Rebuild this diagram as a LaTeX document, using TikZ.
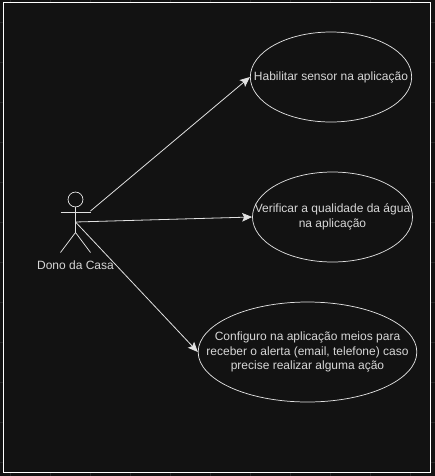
\documentclass[tikz,border=0pt]{standalone}
\usepackage{fontspec}
\setmainfont{Liberation Sans}
\usetikzlibrary{arrows.meta,positioning,shapes.geometric}
\definecolor{pagedark}{RGB}{18,18,18}
\definecolor{gridgray}{RGB}{40,40,40}
\definecolor{linelight}{RGB}{225,225,225}
\definecolor{textlight}{RGB}{215,215,215}
\begin{document}
\begin{tikzpicture}[x=0.75pt,y=-0.75pt,
        usecase/.style={ellipse,draw=linelight,fill=pagedark,line width=0.55pt,inner sep=-60pt,align=center,
          font=\fontsize{9}{10.8}\selectfont,text=textlight,execute at begin node=\vspace*{3.5pt}},
        stick/.style={draw=linelight,line width=0.55pt},
        arrow/.style={-{Stealth[length=7.5pt,width=6.5pt,inset=1.5pt]},draw=linelight,line width=0.6pt}]
        \useasboundingbox (0,0) rectangle (435,476);
        \fill[pagedark] (0,0) rectangle (435,476);
        \draw[gridgray,line width=0.4pt,shift={(10,22)},step=30pt] (-10,-22) grid (425,454);
        \node[draw=white,fill=pagedark,line width=1pt,minimum width=320.5pt,minimum height=352.2pt,inner sep=0pt] (frame) at (217,237.5) {};
        % use cases
        \node[usecase,minimum width=121pt,minimum height=67.5pt] (sensor) at (331,77) {Habilitar sensor na aplicação};
        \node[usecase,minimum width=120pt,minimum height=67.5pt] (agua) at (332.5,217) {Verificar a qualidade da água\\na aplicação};
        \node[usecase,minimum width=164pt,minimum height=75pt] (alerta) at (307.5,352) {Configuro na aplicação meios para\\receber o alerta (email, telefone) caso\\precise realizar alguma ação};
        % actor
        \node[circle,stick,minimum size=11.2pt,inner sep=0pt] (head) at (75.5,199.5) {};
        \coordinate (hip) at (75.5,232.5);
        \coordinate (armL) at (60.5,212.5);
        \coordinate (armR) at (90.5,212.5);
        \coordinate (legL) at (60.5,252.5);
        \coordinate (legR) at (90.5,252.5);
        \coordinate (chest) at (75.5,222);
        \coordinate (shoulder) at (90.5,211);
        \draw[stick] (head) -- (hip);
        \draw[stick] (armL) -- (armR);
        \draw[stick] (legL) -- (hip) -- (legR);
        \node[font=\fontsize{9}{11}\selectfont,text=textlight,inner sep=0pt] (dono) at (75.5,265.5) {Dono da Casa};
        % connectors
        \draw[arrow] (shoulder) -- (sensor.west);
        \draw[arrow] (chest) -- (agua.west);
        \draw[arrow] (chest) -- (alerta.west);
      \end{tikzpicture}
\end{document}
